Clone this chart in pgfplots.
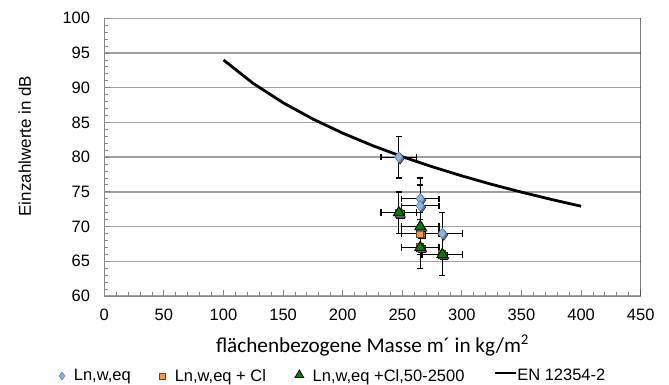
\documentclass[border=0pt]{standalone}
\usepackage{fontspec}
\setmainfont{Liberation Sans}
\newfontfamily\carlito{Carlito}
\usepackage{pgfplots}
\usepackage{pgfplotstable}
\pgfplotsset{compat=1.18}
\definecolor{diafill}{HTML}{8DB4E2}
\definecolor{diaedge}{HTML}{4F81BD}
\definecolor{sqfill}{HTML}{F79646}
\definecolor{sqedge}{HTML}{7F3F00}
\definecolor{trifill}{HTML}{008000}
\definecolor{gridgray}{HTML}{A0A0A0}
\definecolor{axgray}{HTML}{868686}

\pgfplotsset{
  legdia/.style={legend image code/.code={\draw[##1, mark size=3.8bp] plot coordinates {(0bp,0bp)};}},
  legsq/.style={legend image code/.code={\draw[##1, mark size=3bp] plot coordinates {(0bp,0bp)};}},
  legtri/.style={legend image code/.code={\draw[##1, mark size=5bp] plot coordinates {(0bp,1bp)};}},
  legline/.style={legend image code/.code={\draw[##1] (0bp,3bp) -- (12bp,3bp); \draw[##1, overlay] (11bp,3bp) -- (21bp,3bp);}},
}

\pgfplotstableread{
x y ex ey
247 80 14.8 3
265 74 15.9 3
265 73 15.9 3
283.5 69 17.0 3
}\dataA
\pgfplotstableread{
x y ex ey
247 72 14.8 3
265 69 15.9 3
265 67 15.9 3
283.5 66 17.0 3
}\dataB
\pgfplotstableread{
x y ex ey
247 72 14.8 3
265 70 15.9 3
265 67 15.9 3
283.5 66 17.0 3
}\dataC
\pgfplotstableread{
x y
100 94.00
125 90.61
150 87.84
175 85.49
200 83.46
225 81.67
250 80.07
275 78.62
300 77.30
325 76.08
350 74.96
375 73.91
400 72.93
}\dataEN

\begin{document}
\begin{tikzpicture}
\path[use as bounding box] (0,0) rectangle (669bp,385bp);
\begin{axis}[
  at={(104.3bp,89bp)}, anchor=south west,
  scale only axis, width=536.4bp, height=277.7bp,
  xmin=0, xmax=450, ymin=60, ymax=100,
  xtick={0,50,...,450}, ytick={60,65,...,100},
  minor x tick num=4, minor y tick num=4,
  axis lines*=left,
  axis line style={draw=axgray, line width=0.9bp},
  tick style={draw=axgray, line width=0.9bp},
  tick align=inside, major tick length=6bp, minor tick length=4bp,
  ymajorgrids, major grid style={draw=gridgray, line width=1.5bp},
  /pgf/number format/assume math mode=true,
  tick label style={font=\fontsize{16.5bp}{19bp}\selectfont},
  yticklabel style={anchor=east, inner xsep=0pt, xshift=-14bp},
  xticklabel style={anchor=base, inner ysep=0pt, yshift=-24bp},
  xlabel={\carlito flächenbezogene Masse m´ in kg/m\textsuperscript{2}},
  xlabel style={font=\fontsize{21.2bp}{24bp}\selectfont, at={(axis description cs:0.5,-0.2017)}, anchor=base, inner sep=0pt},
  ylabel={Einzahlwerte in dB},
  ylabel style={font=\fontsize{17bp}{20bp}\selectfont, at={(axis description cs:-0.1367,0.54)}, anchor=base, rotate=0, inner sep=0pt},
  error bars/error bar style={black, line width=1.3bp},
  error bars/error mark options={black, line width=1.3bp, mark size=3.2bp, rotate=90},
  legend columns=4,
  legend style={at={(0.425,-0.288)}, anchor=center, draw=none, fill=none,
    font=\fontsize{16.5bp}{19bp}\selectfont,
    nodes={inner sep=0pt},
    /tikz/every odd column/.append style={column sep=9bp},
    /tikz/every even column/.append style={column sep=29bp}},
]
% EN 12354-2 curve (drawn beneath markers)
\addplot[black, line width=2.8bp, forget plot] table[x=x,y=y] {\dataEN};
% shadows
\addplot[only marks, mark=diamond*, mark size=5.4bp, mark options={draw=none, fill=black!55, xshift=1.5bp, yshift=-1.5bp}, forget plot] table[x=x,y=y] {\dataA};
% diamonds
\addplot[only marks, mark=diamond*, mark size=5.4bp,
  mark options={fill=diafill, draw=diaedge, line width=0.6bp},
  legdia,
  error bars/.cd, x dir=both, x explicit, y dir=both, y explicit]
  table[x=x,y=y,x error=ex,y error=ey] {\dataA};
\addlegendentry{Ln,w,eq}
\addplot[only marks, mark=square*, mark size=3.6bp, mark options={draw=none, fill=black!55, xshift=1.5bp, yshift=-1.5bp}, forget plot] table[x=x,y=y] {\dataB};
\addplot[only marks, mark=square*, mark size=3.6bp,
  mark options={fill=sqfill, draw=sqedge, line width=0.8bp},
  legsq,
  error bars/.cd, x dir=both, x explicit, y dir=both, y explicit]
  table[x=x,y=y,x error=ex,y error=ey] {\dataB};
\addlegendentry{Ln,w,eq + Cl}
\addplot[only marks, mark=triangle*, mark size=6.2bp, mark options={draw=none, fill=black!55, xshift=1.5bp, yshift=-1.5bp}, forget plot] table[x=x,y=y] {\dataC};
\addplot[only marks, mark=triangle*, mark size=6.2bp,
  mark options={fill=trifill, draw=black, line width=0.8bp},
  legtri,
  error bars/.cd, x dir=both, x explicit, y dir=both, y explicit]
  table[x=x,y=y,x error=ex,y error=ey] {\dataC};
\addlegendentry{Ln,w,eq +Cl,50-2500}
\addlegendimage{black, line width=2.8bp, legline}
\addlegendentry{EN 12354-2}
\draw[black!80, line width=1bp] (rel axis cs:1,0) -- (rel axis cs:1,1);
\end{axis}
\end{tikzpicture}
\end{document}
